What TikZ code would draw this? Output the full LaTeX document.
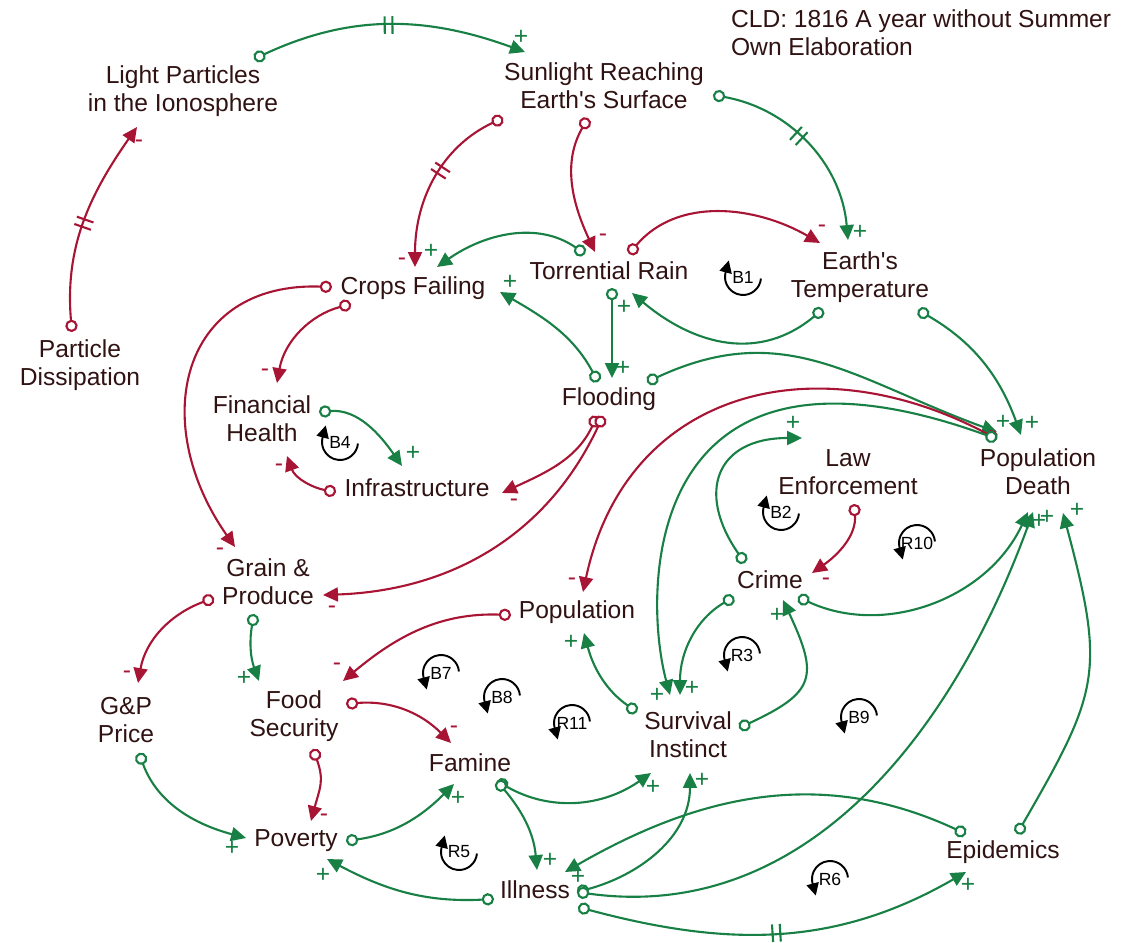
\documentclass[tikz,border=0pt]{standalone}
\usepackage{fontspec}
\setmainfont{Liberation Sans}
\usetikzlibrary{arrows.meta,decorations.markings}
\definecolor{grn}{RGB}{24,128,68}
\definecolor{rd}{RGB}{168,20,52}
\definecolor{txt}{RGB}{48,18,18}
\tikzset{
  var/.style={align=center, text=txt, font=\fontsize{14}{16}\selectfont, inner sep=1pt},
  link/.style={line width=1.2pt, {Circle[length=7pt,width=7pt,fill=white]}-{Triangle[length=8.5pt,width=8pt]}},
  plink/.style={link, color=grn},
  nlink/.style={link, color=rd},
  sgn/.style={font=\fontsize{14}{14}\selectfont, inner sep=0pt},
  delaymark/.style={postaction={decorate, decoration={markings, mark=at position #1 with {\draw[arrows=-, line width=1.2pt] (-2.2pt,-5pt) -- (-2.2pt,5pt) (2.2pt,-5pt) -- (2.2pt,5pt);}}}},
  loopname/.style={font=\fontsize{10}{10}\selectfont, inner sep=0pt},
  looparc/.style={line width=1.1pt, -{Triangle[length=7pt,width=7pt]}}
}
\newcommand{\loopcw}[3]{%
  \node[loopname] (#1) at (#2) {#3};
  \draw[looparc] ([shift={(-5:0.36cm)}]#1.center) arc[start angle=-5, end angle=-195, radius=0.36cm] -- ++(75:7pt);}
\newcommand{\loopccw}[3]{%
  \node[loopname] (#1) at (#2) {#3};
  \draw[looparc] ([shift={(5:0.36cm)}]#1.center) arc[start angle=5, end angle=195, radius=0.36cm] -- ++(285:7pt);}

\begin{document}
\begin{tikzpicture}[x=0.02cm,y=0.02cm]
\useasboundingbox (0,0) rectangle (1134,-943);

\node[var, anchor=west, align=left] (title) at (729,-33) {CLD: 1816 A year without Summer\\Own Elaboration};

\node[var] (lp) at (183,-91) {Light Particles\\in the Ionosphere};
\node[var] (sr) at (604,-86) {Sunlight Reaching\\Earth\textquotesingle s Surface};
\node[var] (pdis) at (80,-365) {Particle\\Dissipation};
\node[var] (cf) at (413,-288) {Crops Failing};
\node[var] (tr) at (609,-271) {Torrential Rain};
\node[var] (et) at (860,-277) {Earth\textquotesingle s\\Temperature};
\node[var] (fh) at (262,-419) {Financial\\Health};
\node[var] (fl) at (609,-399) {Flooding};
\node[var] (inf) at (417,-488) {Infrastructure};
\node[var] (le) at (848,-472) {Law\\Enforcement};
\node[var] (pd) at (1038,-472) {Population\\Death};
\node[var] (gp) at (268,-582) {Grain \&\\Produce};
\node[var] (cr) at (770,-580) {Crime};
\node[var] (pop) at (577,-612) {Population};
\node[var] (gpp) at (126,-720) {G\&P\\Price};
\node[var] (fs) at (294,-716) {Food\\Security};
\node[var] (si) at (688,-735) {Survival\\Instinct};
\node[var] (fam) at (470,-763) {Famine};
\node[var] (pov) at (296,-841) {Poverty};
\node[var] (ill) at (535,-890) {Illness};
\node[var] (epi) at (1003,-852) {Epidemics};

\draw[plink, delaymark=.5] ([shift={(71,32)}]lp.center) to[out=25,in=160] ([shift={(-79,34)}]sr.center) node[sgn,shift={(-4,15)}] {+};
\draw[nlink, delaymark=.5] ([shift={(-8,33)}]pdis.center) to[out=95,in=235] ([shift={(-46,-36)}]lp.center) node[sgn,shift={(2,-17)}] {-};
\draw[nlink, delaymark=.45] ([shift={(-101,-32)}]sr.center) to[out=205,in=90] ([shift={(2,21)}]cf.center) node[sgn,shift={(-13,5)}] {-};
\draw[nlink] ([shift={(-16,-32)}]sr.center) to[out=240,in=115] ([shift={(-14,19)}]tr.center) node[sgn,shift={(8,14)}] {-};
\draw[plink, delaymark=.45] ([shift={(109,-9)}]sr.center) to[out=-10,in=95] ([shift={(-12,37)}]et.center) node[sgn,shift={(12,8)}] {+};
\draw[plink] ([shift={(-24,17)}]tr.center) to[out=145,in=35] ([shift={(24,21)}]cf.center) node[sgn,shift={(-6,16)}] {+};
\draw[nlink] ([shift={(20,17)}]tr.center) to[out=50,in=150] ([shift={(-40,34)}]et.center) node[sgn,shift={(2,14)}] {-};
\draw[plink] ([shift={(-37,-32)}]et.center) to[out=220,in=-40,looseness=1.1] ([shift={(23,-22)}]tr.center) node[sgn,shift={(-8,-14)}] {+};
\draw[plink] ([shift={(3,-17)}]tr.center) -- ([shift={(3,21)}]fl.center) node[sgn,shift={(11,10)}] {+};
\draw[plink] ([shift={(-11,17)}]fl.center) to[out=118,in=-30] ([shift={(87,-4)}]cf.center) node[sgn,shift={(10,10)}] {+};
\draw[nlink] ([shift={(-62,-16)}]cf.center) to[out=195,in=80] ([shift={(15,36)}]fh.center) node[sgn,shift={(-12,10)}] {-};
\draw[nlink] ([shift={(-81,1)}]cf.center) to[out=178,in=125,looseness=1.4] ([shift={(-33,35)}]gp.center) node[sgn,shift={(-15,-5)}] {-};
\draw[plink] ([shift={(57,7)}]fh.center) to[out=5,in=125] ([shift={(-15,22)}]inf.center) node[sgn,shift={(11,13)}] {+};
\draw[nlink] ([shift={(-81,-4)}]inf.center) to[out=170,in=-70] ([shift={(25,-37)}]fh.center) node[sgn,shift={(-8,-12)}] {-};
\draw[nlink] ([shift={(-12,-17)}]fl.center) to[out=245,in=25] ([shift={(85,-5)}]inf.center) node[sgn,shift={(12,-10)}] {-};
\draw[nlink] ([shift={(-6,-17)}]fl.center) to[out=245,in=2] ([shift={(55,-13)}]gp.center) node[sgn,shift={(9,-15)}] {-};
\draw[plink] ([shift={(38,17)}]fl.center) to[out=25,in=160,looseness=1.1] ([shift={(-41,40)}]pd.center) node[sgn,shift={(6,10)}] {+};
\draw[plink] ([shift={(58,-33)}]et.center) to[out=-30,in=110] ([shift={(-17,37)}]pd.center) node[sgn,shift={(11,12)}] {+};
\draw[nlink] ([shift={(-41,33)}]pd.center) to[out=152,in=78,looseness=1.2] ([shift={(6,20)}]pop.center) node[sgn,shift={(-11,10)}] {-};
\draw[plink] ([shift={(-41,33)}]pd.center) .. controls +(-355,129) and +(-28,104) .. ([shift={(-18,40)}]si.center) node[sgn,shift={(-13,0)}] {+};
\draw[plink] ([shift={(-25,17)}]cr.center) to[out=125,in=180,looseness=1.6] ([shift={(-46,34)}]le.center) node[sgn,shift={(-9,15)}] {+};
\draw[nlink] ([shift={(6,-32)}]le.center) to[out=-85,in=35] ([shift={(42,7)}]cr.center) node[sgn,shift={(14,-9)}] {-};
\draw[plink] ([shift={(-36,-17)}]cr.center) to[out=210,in=90] ([shift={(-8,40)}]si.center) node[sgn,shift={(12,7)}] {+};
\draw[plink] ([shift={(51,7)}]si.center) to[out=25,in=-65,looseness=1.6] ([shift={(13,-20)}]cr.center) node[sgn,shift={(-6,-15)}] {+};
\draw[plink] ([shift={(28,-17)}]cr.center) to[out=-25,in=245] ([shift={(-10,-40)}]pd.center) node[sgn,shift={(11,-9)}] {+};
\draw[plink] ([shift={(-51,23)}]si.center) to[out=145,in=-75] ([shift={(7,-21)}]pop.center) node[sgn,shift={(-13,-9)}] {+};
\draw[nlink] ([shift={(-66,-3)}]pop.center) to[out=178,in=40] ([shift={(49,35)}]fs.center) node[sgn,shift={(-6,14)}] {-};
\draw[nlink] ([shift={(-54,-16)}]gp.center) to[out=200,in=80] ([shift={(12,37)}]gpp.center) node[sgn,shift={(-11,8)}] {-};
\draw[plink] ([shift={(-14,-32)}]gp.center) to[out=-100,in=110] ([shift={(-35,35)}]fs.center) node[sgn,shift={(-15,3)}] {+};
\draw[nlink] ([shift={(52,12)}]fs.center) to[out=5,in=135] ([shift={(-19,20)}]fam.center) node[sgn,shift={(3,13)}] {-};
\draw[nlink] ([shift={(19,-33)}]fs.center) to[out=-70,in=75,looseness=1.2] ([shift={(15,20)}]pov.center) node[sgn,shift={(13,3)}] {-};
\draw[plink] ([shift={(13,-33)}]gpp.center) to[out=-70,in=165] ([shift={(-50,3)}]pov.center) node[sgn,shift={(-14,-10)}] {+};
\draw[plink] ([shift={(50,0)}]pov.center) to[out=8,in=-135] ([shift={(-16,-21)}]fam.center) node[sgn,shift={(4,-14)}] {+};
\draw[plink] ([shift={(-41,-9)}]ill.center) to[out=183,in=-28] ([shift={(31,-18)}]pov.center) node[sgn,shift={(-4,-16)}] {+};
\draw[plink] ([shift={(27,-18)}]fam.center) to[out=-30,in=-145] ([shift={(-37,-38)}]si.center) node[sgn,shift={(2,-14)}] {+};
\draw[plink] ([shift={(27,-18)}]fam.center) to[out=-50,in=95] ([shift={(2,20)}]ill.center) node[sgn,shift={(13,10)}] {+};
\draw[plink] ([shift={(42,-2)}]ill.center) to[out=15,in=-90] ([shift={(2,-38)}]si.center) node[sgn,shift={(12,-7)}] {+};
\draw[plink] ([shift={(-37,18)}]epi.center) to[out=155,in=30] ([shift={(30,18)}]ill.center) node[sgn,shift={(13,-5)}] {+};
\draw[plink] ([shift={(42,-2)}]ill.center) to[out=-8,in=250] ([shift={(-5,-40)}]pd.center) node[sgn,shift={(14,-5)}] {+};
\draw[plink] ([shift={(14,18)}]epi.center) to[out=60,in=-75,looseness=1.3] ([shift={(25,-41)}]pd.center) node[sgn,shift={(14,3)}] {+};
\draw[plink, delaymark=.5] ([shift={(43,-17)}]ill.center) to[out=-15,in=-150] ([shift={(-37,-20)}]epi.center) node[sgn,shift={(2,-13)}] {+};

\loopcw{b1}{743,-277}{B1}
\loopcw{b4}{340,-442}{B4}
\loopcw{b2}{781,-512}{B2}
\loopccw{r10}{917,-543}{R10}
\loopccw{r3}{742,-655}{R3}
\loopccw{b7}{441,-673}{B7}
\loopccw{b8}{502,-697}{B8}
\loopccw{r11}{572,-723}{R11}
\loopccw{b9}{859,-717}{B9}
\loopcw{r5}{459,-852}{R5}
\loopccw{r6}{830,-879}{R6}
\end{tikzpicture}
\end{document}
